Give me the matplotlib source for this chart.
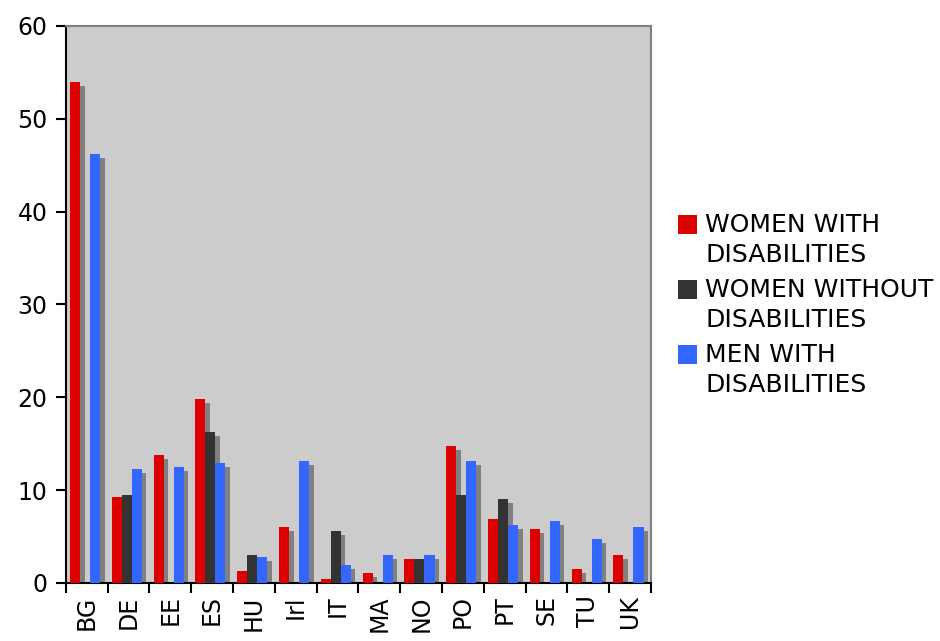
import matplotlib
matplotlib.use("Agg")
import matplotlib.pyplot as plt
import matplotlib.transforms as mtransforms
from matplotlib.patches import Rectangle
import numpy as np

countries = ["BG", "DE", "EE", "ES", "HU", "Irl", "IT", "MA", "NO", "PO", "PT", "SE", "TU", "UK"]
women_dis = [54.0, 9.3, 13.8, 19.8, 1.3, 6.0, 0.4, 1.1, 2.6, 14.8, 6.9, 5.8, 1.5, 3.0]
women_nodis = [0, 9.5, 0, 16.3, 3.0, 0, 5.6, 0, 2.6, 9.5, 9.0, 0, 0, 0]
men_dis = [46.2, 12.3, 12.5, 12.9, 2.8, 13.1, 1.9, 3.0, 3.0, 13.1, 6.2, 6.7, 4.7, 6.0]

series = [
    ("WOMEN WITH\nDISABILITIES", women_dis, "#dd0000"),
    ("WOMEN WITHOUT\nDISABILITIES", women_nodis, "#333333"),
    ("MEN WITH\nDISABILITIES", men_dis, "#3366ff"),
]

W, H = 940, 641
fig = plt.figure(figsize=(9.4, 6.41), dpi=100)
ax = fig.add_axes([0.070, 0.0905, 0.6226, 0.869])
ax.set_facecolor("#cccccc")

x = np.arange(len(countries))
w = 0.24
shadow = ax.transData + mtransforms.ScaledTranslation(0.045, -0.04, fig.dpi_scale_trans)

for i, (label, vals, color) in enumerate(series):
    pos = x + (i - 1) * w - 0.04
    ax.bar(pos, vals, w, color="#808080", transform=shadow, zorder=2)
for i, (label, vals, color) in enumerate(series):
    pos = x + (i - 1) * w - 0.04
    ax.bar(pos, vals, w, color=color, label=label, zorder=3)

ax.set_xlim(-0.5, len(countries) - 0.5)
ax.set_ylim(0, 60)
ax.set_yticks(range(0, 61, 10))
ax.set_xticks(x)
ax.set_xticklabels(countries, rotation=90)
ax.set_xticks(np.arange(-0.5, len(countries), 1), minor=True)
ax.tick_params(axis="x", which="major", length=0, labelsize=17, pad=9)
ax.tick_params(axis="x", which="minor", length=7, width=1.5, direction="out")
ax.tick_params(axis="y", length=7, width=1.5, direction="out", labelsize=17, pad=6)

for s in ["left", "bottom"]:
    ax.spines[s].set_color("black")
    ax.spines[s].set_linewidth(1.5)
for s in ["top", "right"]:
    ax.spines[s].set_color("#808080")
    ax.spines[s].set_linewidth(1.5)

# legend drawn by hand so the swatch lines up with the first text line
for i, (label, vals, color) in enumerate(series):
    top = 215 + 65 * i
    fig.add_artist(Rectangle((678 / W, 1 - (top + 19) / H), 19 / W, 19 / H,
                             transform=fig.transFigure, facecolor=color,
                             edgecolor="none"))
    fig.text(705 / W, 1 - (top - 2) / H, label, fontsize=18, va="top",
             ha="left", linespacing=1.3)

plt.savefig("out.png", dpi=100)
